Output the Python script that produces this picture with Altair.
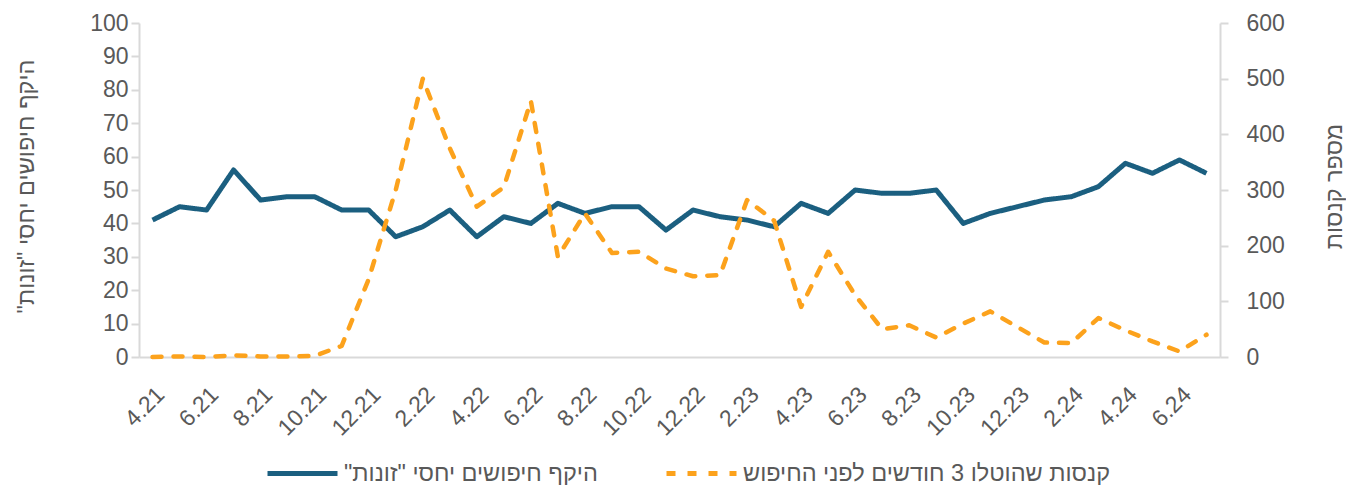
import altair as alt
import pandas as pd

months = ["4.21", "5.21", "6.21", "7.21", "8.21", "9.21", "10.21", "11.21", "12.21",
          "1.22", "2.22", "3.22", "4.22", "5.22", "6.22", "7.22", "8.22", "9.22", "10.22", "11.22", "12.22",
          "1.23", "2.23", "3.23", "4.23", "5.23", "6.23", "7.23", "8.23", "9.23", "10.23", "11.23", "12.23",
          "1.24", "2.24", "3.24", "4.24", "5.24", "6.24", "7.24"]

searches = [41, 45, 44, 56, 47, 48, 48, 44, 44,
            36, 39, 44, 36, 42, 40, 46, 43, 45, 45, 38, 44,
            42, 41, 39, 46, 43, 50, 49, 49, 50, 40, 43, 45,
            47, 48, 51, 58, 55, 59, 55]

fines = [0, 1, 0, 3, 1, 1, 2, 20, 140,
         300, 500, 375, 270, 305, 460, 180, 258, 187, 189, 159, 145,
         147, 282, 245, 90, 189, 111, 50, 57, 35, 60, 82, 54,
         26, 25, 70, 48, 28, 10, 40]

RLM = "\u200f"
s_blue = RLM + 'היקף חיפושים יחסי "זונות"' + RLM
s_orange = RLM + "קנסות שהוטלו 3 חודשים לפני החיפוש" + RLM
left_title = RLM + 'היקף חיפושים יחסי "זונות"' + RLM
right_title = RLM + "מספר קנסות" + RLM
tick_labels = months[::2]

BLUE = "#1b5f80"
ORANGE = "#fca21c"
GREY_TXT = "#595959"
GREY_LN = "#d9d9d9"
FONT = "Liberation Sans"
LBL = 23
TTL = 23.5

df = pd.DataFrame({
    "month": months * 2,
    "value": searches + fines,
    "series": [s_blue] * len(months) + [s_orange] * len(months),
})

legend = alt.Legend(
    orient="none", legendX=126, legendY=413, direction="horizontal", title=None,
    symbolType="stroke", symbolSize=4900, symbolStrokeWidth=5,
    labelFontSize=TTL, labelColor=GREY_TXT, labelFont=FONT, labelLimit=700,
    columnPadding=58, labelOffset=4,
)

x = alt.X("month:O", sort=months, title=None,
          scale=alt.Scale(type="point", padding=0.5),
          axis=alt.Axis(values=tick_labels, labelAngle=-45, labelFontSize=LBL,
                        labelColor=GREY_TXT, labelFont=FONT, ticks=False,
                        domainColor=GREY_LN, domainWidth=2, labelPadding=26))

color = alt.Color("series:N", scale=alt.Scale(domain=[s_blue, s_orange], range=[BLUE, ORANGE]),
                  legend=legend)
dash = alt.StrokeDash("series:N", scale=alt.Scale(domain=[s_blue, s_orange], range=[[1, 0], [9, 12]]),
                      legend=legend)

base = alt.Chart(df)

blue_line = base.transform_filter(alt.datum.series == s_blue).mark_line(
    strokeWidth=5, strokeJoin="round"
).encode(
    x=x,
    y=alt.Y("value:Q", scale=alt.Scale(domain=[0, 100]),
            axis=alt.Axis(orient="left", values=list(range(0, 101, 10)), title=left_title,
                          grid=False, labelFontSize=LBL, labelColor=GREY_TXT, labelFont=FONT,
                          domainColor=GREY_LN, domainWidth=2, tickColor=GREY_LN, tickWidth=2,
                          tickSize=8, labelPadding=3,
                          titleFontSize=TTL, titleColor=GREY_TXT, titleFont=FONT, titleFontWeight="normal",
                          titleAngle=270, titleX=-113, titleY=163, titleBaseline="middle",
                          titleAlign="center")),
    color=color,
    strokeDash=dash,
)

orange_line = base.transform_filter(alt.datum.series == s_orange).mark_line(
    strokeWidth=4.5, strokeJoin="round", strokeCap="round"
).encode(
    x=x,
    y=alt.Y("value:Q", scale=alt.Scale(domain=[0, 600]),
            axis=alt.Axis(orient="right", values=list(range(0, 601, 100)), title=right_title,
                          grid=False, labelFontSize=LBL, labelColor=GREY_TXT, labelFont=FONT,
                          domainColor=GREY_LN, domainWidth=2, tickColor=GREY_LN, tickWidth=2,
                          tickSize=8, labelPadding=18,
                          titleFontSize=TTL, titleColor=GREY_TXT, titleFont=FONT, titleFontWeight="normal",
                          titleAngle=270, titleX=114, titleY=163, titleBaseline="middle",
                          titleAlign="center")),
    color=color,
    strokeDash=dash,
)

chart = alt.layer(blue_line, orange_line).resolve_scale(y="independent").properties(
    width=1081, height=334,
    padding={"left": 131, "top": 15, "right": 126, "bottom": 128},
    autosize=alt.AutoSizeParams(type="none"),
).configure_view(stroke=None)

chart.save("out.html", embed_options={"renderer": "svg", "actions": False})
